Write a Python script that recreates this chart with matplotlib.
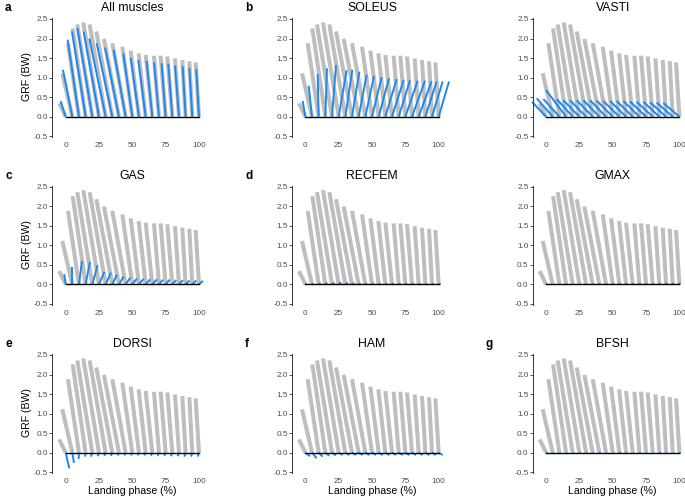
import matplotlib
matplotlib.use("Agg")
import matplotlib.pyplot as plt
import numpy as np

plt.rcParams['font.family'] = ['Liberation Sans', 'DejaVu Sans']
plt.rcParams['axes.unicode_minus'] = False

# landing phase (%) where each GRF vector starts
phase = np.arange(0, 101, 5)

# total GRF vectors (horizontal offset in % units, vertical in BW)
grf_dx = [-4.75, -7.5, -8.25, -9.75, -11.25, -11.75, -12, -12, -11.25, -10, -7.5,
          -6.25, -5.25, -5, -3.75, -3.75, -3.75, -3, -2.5, -2.25, -2.5]
grf_dy = [0.34, 1.11, 1.88, 2.26, 2.36, 2.41, 2.36, 2.18, 1.99, 1.88, 1.79,
          1.69, 1.62, 1.58, 1.56, 1.56, 1.54, 1.49, 1.45, 1.42, 1.39]

# muscle contributions
all_dx = [-3.75, -7, -8.5, -10.25, -11.25, -11.5, -12.25, -11.75, -10.5, -9, -6.75,
          -6.25, -5.5, -4.25, -3.75, -3, -3, -3, -2.25, -2.25, -2]
all_dy = [0.40, 1.2, 1.97, 2.18, 2.27, 2.18, 2.0, 1.88, 1.77, 1.71, 1.62,
          1.51, 1.45, 1.43, 1.39, 1.37, 1.35, 1.31, 1.29, 1.25, 1.22]

sol_dx = [-2, -2.5, -0.75, 1.25, 3, 6, 5.25, 5.5, 6, 6.5, 7.25,
          7.75, 8.5, 8.75, 8.5, 9.25, 9.75, 9.75, 8.5, 8, 7.75]
sol_dy = [0.40, 0.79, 1.09, 1.24, 1.32, 1.19, 1.2, 1.15, 1.07, 1.04, 1.01,
          0.98, 0.96, 0.94, 0.93, 0.92, 0.92, 0.91, 0.9, 0.9, 0.9]

vas_dx = [-10.5, -12, -12, -15, -12, -12, -12, -12, -12, -12, -12,
          -12, -12, -12, -12, -12, -12, -12, -12, -12, -12]
vas_dy = [0.38, 0.47, 0.45, 0.68, 0.45, 0.42, 0.42, 0.42, 0.42, 0.42, 0.41,
          0.40, 0.40, 0.40, 0.40, 0.39, 0.38, 0.38, 0.37, 0.36, 0.35]

gas_dx = [-1, 0, 2.25, 3.25, 4, 4, 4, 3.5, 3.5, 3.5, 3.5,
          3.5, 3.5, 3.5, 3, 3, 3, 3, 3, 3, 3]
gas_dy = [0.26, 0.45, 0.60, 0.58, 0.49, 0.32, 0.30, 0.25, 0.20, 0.17, 0.15,
          0.14, 0.13, 0.13, 0.12, 0.12, 0.11, 0.11, 0.10, 0.10, 0.09]

rf_dx = [1, 1, 1.5, 1.5, 2, 2, 2, 2, 1.5, 1.5, 1.5,
         1.5, 1.5, 1.5, 1.5, 1.5, 1.5, 1.5, 1.5, 1.5, 1.5]
rf_dy = [0.01, 0.02, 0.03, 0.04, 0.04, 0.05, 0.04, 0.03, 0.02, 0.02, 0.02,
         0.02, 0.02, 0.02, 0.02, 0.02, 0.02, 0.01, 0.01, 0.01, 0.01]

gmax_dx = [0.5] * 21
gmax_dy = [0.0, 0.0, 0.01, 0.01, 0.01, 0.01, 0.01, 0.02, 0.02, 0.03, 0.03,
           0.03, 0.03, 0.03, 0.03, 0.03, 0.03, 0.03, 0.04, 0.04, 0.04]

dor_dx = [2.75, 1.25, -0.25, -0.5, -1, -1, -1, -1, -1, -1, -1,
          -1, -1, -1, -1, -1, -1, -1, -1, -1, -1]
dor_dy = [-0.40, -0.26, -0.16, -0.10, -0.10, -0.09, -0.08, -0.08, -0.07, -0.07, -0.07,
          -0.07, -0.07, -0.08, -0.08, -0.08, -0.09, -0.09, -0.10, -0.10, -0.10]

ham_dx = [3.5, 3.5, 3, 3, 3, 3, 3, 3, 3, 3, 3,
          3, 3, 3, 3, 3, 3, 3, 3, 3, 3]
ham_dy = [-0.09, -0.14, -0.10, -0.08, -0.07, -0.06, -0.06, -0.06, -0.06, -0.06, -0.06,
          -0.06, -0.06, -0.06, -0.06, -0.06, -0.06, -0.06, -0.06, -0.06, -0.06]

bf_dx = [1] * 21
bf_dy = [-0.02, -0.03, -0.03, -0.03, -0.02, -0.01, -0.01, 0, 0, 0, 0,
         0, 0, 0, 0, 0, 0, 0, 0, 0, 0]

panels = [("a", "All muscles", all_dx, all_dy),
          ("b", "SOLEUS", sol_dx, sol_dy),
          ("", "VASTI", vas_dx, vas_dy),
          ("c", "GAS", gas_dx, gas_dy),
          ("d", "RECFEM", rf_dx, rf_dy),
          ("", "GMAX", gmax_dx, gmax_dy),
          ("e", "DORSI", dor_dx, dor_dy),
          ("f", "HAM", ham_dx, ham_dy),
          ("g", "BFSH", bf_dx, bf_dy)]

W, H = 685, 500
fig = plt.figure(figsize=(W / 100, H / 100), dpi=100)

col_left = [52.3, 292.0, 532.7]      # pixel x of panel left edge
row_top = [17.8, 185.5, 353.8]       # pixel y of panel top edge
pw, ph = 151.0, 119.6

gray = "#BEBEBE"
blue = "#1E88EE"

for k, (letter, name, dx, dy) in enumerate(panels):
    r, c = divmod(k, 3)
    ax = fig.add_axes([col_left[c] / W, 1 - (row_top[r] + ph) / H, pw / W, ph / H])
    for b, gx, gy in zip(phase, grf_dx, grf_dy):
        ax.plot([b, b + gx], [0, gy], color=gray, lw=2.9, solid_capstyle="butt",
                clip_on=False, zorder=1)
    for b, mx, my in zip(phase, dx, dy):
        ax.plot([b, b + mx], [0, my], color=blue, lw=1.4, solid_capstyle="butt",
                clip_on=False, zorder=2)
    ax.plot([0, 100], [0, 0], color="black", lw=1.0, zorder=3)

    ax.set_xlim(-10, 103.25)
    ax.set_ylim(-0.53, 2.53)
    ax.set_xticks([0, 25, 50, 75, 100])
    ax.set_yticks([-0.5, 0, 0.5, 1.0, 1.5, 2.0, 2.5])
    ax.set_yticklabels(["-0.5", "0.0", "0.5", "1.0", "1.5", "2.0", "2.5"])
    ax.tick_params(axis="x", length=0, pad=3.5, labelsize=5.9, labelcolor="#4D4D4D")
    ax.tick_params(axis="y", length=2, width=0.6, pad=1, labelsize=5.9,
                   labelcolor="#4D4D4D", color="#333333")
    for s in ["top", "right", "bottom"]:
        ax.spines[s].set_visible(False)
    ax.spines["left"].set_color("#333333")
    ax.spines["left"].set_linewidth(0.7)
    ax.set_facecolor("none")

    ax.annotate(name, xy=(50, 1), xycoords=("data", "axes fraction"),
                xytext=(0, 7), textcoords="offset points",
                ha="center", va="center", fontsize=8.8)
    if letter:
        fig.text((5 + 240 * c) / W, 1 - (row_top[r] - 9.8) / H, letter,
                 fontsize=8.5, fontweight="bold", ha="left", va="center")
    if c == 0:
        fig.text(27 / W, 1 - (row_top[r] + 59) / H, "GRF (BW)", rotation=90,
                 ha="center", va="center", fontsize=7.6)
    if r == 2:
        ax.annotate("Landing phase (%)", xy=(50, 0), xycoords=("data", "axes fraction"),
                    xytext=(0, -18), textcoords="offset pixels",
                    ha="center", va="center", fontsize=7.6)

fig.savefig("out.png", dpi=100)
